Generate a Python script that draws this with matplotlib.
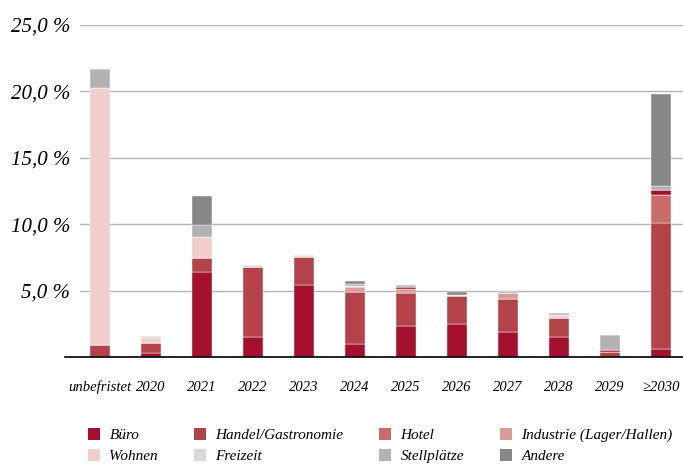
import numpy as np
import matplotlib.pyplot as plt
from matplotlib.patches import Patch

plt.rcParams['font.family'] = ['Liberation Serif', 'DejaVu Serif']
plt.rcParams['font.style'] = 'italic'

# Kategorien (x-Achse)
labels = ['unbefristet', '2020', '2021', '2022', '2023', '2024', '2025',
          '2026', '2027', '2028', '2029', '≥2030']

# Anteile in %, je Nutzungsart
buero      = [0.0, 0.30, 6.40, 1.50, 5.40, 1.00, 2.35, 2.50, 1.90, 1.50, 0.00, 0.60]
handel     = [0.9, 0.75, 1.05, 5.25, 2.15, 3.92, 2.50, 2.10, 2.50, 1.40, 0.37, 9.50]
hotel      = [0.0, 0.00, 0.00, 0.00, 0.00, 0.00, 0.00, 0.00, 0.00, 0.00, 0.00, 2.10]
industrie  = [0.0, 0.00, 0.00, 0.00, 0.00, 0.35, 0.30, 0.00, 0.45, 0.00, 0.00, 0.00]
sonstige   = [0.0, 0.00, 0.00, 0.00, 0.00, 0.00, 0.12, 0.00, 0.00, 0.00, 0.13, 0.40]
wohnen     = [19.35, 0.40, 1.60, 0.00, 0.00, 0.10, 0.00, 0.07, 0.00, 0.30, 0.00, 0.00]
freizeit   = [0.0, 0.15, 0.00, 0.18, 0.12, 0.00, 0.00, 0.00, 0.00, 0.00, 0.00, 0.00]
stellplatz = [1.45, 0.00, 0.90, 0.00, 0.00, 0.13, 0.13, 0.00, 0.15, 0.10, 1.15, 0.30]
andere     = [0.0, 0.00, 2.20, 0.00, 0.00, 0.20, 0.00, 0.20, 0.00, 0.00, 0.00, 6.90]

series = [
    ('Büro', buero, '#a5102e'),
    ('Handel/Gastronomie', handel, '#b34349'),
    ('Hotel', hotel, '#c96c6a'),
    ('Industrie (Lager/Hallen)', industrie, '#d89d99'),
    ('_sonstige', sonstige, '#a5102e'),
    ('Wohnen', wohnen, '#efcecc'),
    ('Freizeit', freizeit, '#d9d9d9'),
    ('Stellplätze', stellplatz, '#b2b2b2'),
    ('Andere', andere, '#878787'),
]

fig = plt.figure(figsize=(6.83, 4.66), dpi=100)
ax = fig.add_axes([80 / 683, 109 / 466, 603 / 683, 332 / 466])

x = np.arange(len(labels))
bottom = np.zeros(len(labels))
for name, vals, col in series:
    vals = np.array(vals)
    ax.bar(x, vals, width=0.39, bottom=bottom, color=col, edgecolor='white',
           linewidth=0.3, zorder=3)
    bottom += vals

ax.set_xlim(-0.39, 11.43)
ax.set_ylim(0, 25)
ax.set_yticks([5, 10, 15, 20, 25])
ax.set_yticklabels(['5,0 %', '10,0 %', '15,0 %', '20,0 %', '25,0 %'], fontsize=15)
ax.set_xticks(x)
ax.set_xticklabels(labels, fontsize=10.5)
ax.tick_params(axis='both', length=0)
ax.tick_params(axis='y', pad=7)
ax.tick_params(axis='x', pad=17)
ax.grid(axis='y', color='#b4b4b4', linewidth=1, zorder=0)
for s in ax.spines.values():
    s.set_visible(False)
ax.plot([-0.69, 11.43], [0, 0], color='black', linewidth=1.2, clip_on=False, zorder=4)

# Legende spaltenweise
order = ['Büro', 'Wohnen', 'Handel/Gastronomie', 'Freizeit', 'Hotel', 'Stellplätze',
         'Industrie (Lager/Hallen)', 'Andere']
cols = {n: c for n, v, c in series}
handles = [Patch(facecolor=cols[n], edgecolor='none', label=n) for n in order]
fig.legend(handles=handles, ncol=4, loc='upper left', bbox_to_anchor=(88 / 683, 38 / 466),
           frameon=False, fontsize=11, handlelength=0.8, handleheight=0.8,
           handletextpad=0.6, columnspacing=2.35, labelspacing=0.45, borderpad=0,
           borderaxespad=0)

fig.savefig('out.png', dpi=100)
